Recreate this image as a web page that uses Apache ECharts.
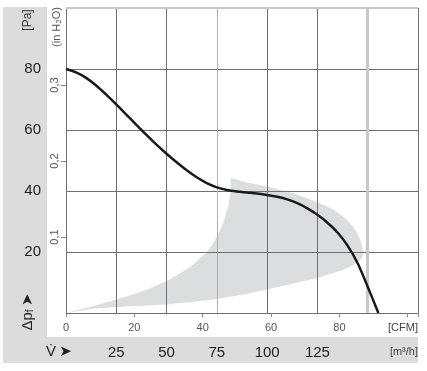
<!DOCTYPE html>
<html><head><meta charset="utf-8">
<script src="https://cdn.jsdelivr.net/npm/echarts@6/dist/echarts.min.js"></script>
<style>html,body{margin:0;padding:0;background:#fff}#c{width:427px;height:371px}</style>
</head><body><div id="c"></div>
<script>
// Fan curve: flow in m³/h, pressure in Pa
const curveFlow = [0, 5, 10, 15, 20, 25, 30, 35, 40, 45, 50, 55, 60, 65, 70, 75, 80, 85, 90, 95, 100, 105, 110, 115, 120, 125, 130, 135, 140, 145, 150, 155.3];
const curvePa   = [80, 78.9, 77.1, 74.6, 71.6, 68.4, 65.05, 61.7, 58.4, 55.2, 52.2, 49.4, 46.8, 44.5, 42.6, 41.2, 40.35, 39.85, 39.5, 39.15, 38.7, 38.1, 37.25, 36.0, 34.3, 32.2, 29.6, 26.4, 22.1, 16.3, 8.6, 0];
// Operating range (shaded region) outline, m³/h / Pa
const bandFlow = [0, 13, 25, 38, 50, 62, 75.2, 88, 100, 112, 125, 138, 144.7, 146.8, 147.7, 147.6, 147.2, 146.2, 144.7, 142.5, 139.7, 133, 125, 113, 100, 89.8, 82, 81.9, 80.7, 78.2, 75.2, 72.5, 69.9, 63.2, 56.5, 49.9, 38.3, 25, 13.3, 0];
const bandPa   = [0, 1.4, 2.0, 2.4, 2.8, 3.6, 4.6, 6.1, 7.7, 9.5, 11.5, 14.2, 16.4, 17.8, 19.1, 20.5, 21.9, 24.1, 26.2, 28.5, 30.6, 33.9, 36.3, 39.3, 41.5, 42.8, 44.3, 39.9, 35, 29.5, 25.1, 22.3, 19.9, 15.8, 12.9, 10.4, 7.1, 4.4, 2.2, 0];
const flowTickLabels = [25, 50, 75, 100, 125];
const cfmTickLabels = [0, 20, 40, 60, 80];
const paTickLabels = [20, 40, 60, 80];
const inH2OTickLabels = [0.1, 0.2, 0.3];
const M3H_PER_CFM = 1.69901;
const PA_PER_INH2O = 249.089;

const FONT = 'Liberation Sans';
const chart = echarts.init(document.getElementById('c'), null, {renderer: 'canvas'});
const DARK = '#707070';
chart.setOption({
  animation: false,
  backgroundColor: '#fff',
  grid: {left: 66, top: 8, width: 352, height: 305, containLabel: false},
  graphic: [
    {type: 'rect', z: -100, shape: {x: 3, y: 7, width: 44, height: 330}, style: {fill: '#dcdcdc'}},
    {type: 'rect', z: -100, shape: {x: 3, y: 337, width: 415, height: 26}, style: {fill: '#dcdcdc'}},
    {type: 'text', x: 28, y: 20, rotation: Math.PI / 2,
      style: {text: '[Pa]', font: '12px ' + FONT, fill: '#333', align: 'center', verticalAlign: 'middle'}},
    {type: 'text', x: 57, y: 27, rotation: Math.PI / 2,
      style: {text: '{a|(in H}{s|2}{a|O)}', align: 'center', verticalAlign: 'middle',
        rich: {a: {font: '11px ' + FONT, fill: '#555'}, s: {font: '8px ' + FONT, fill: '#555', verticalAlign: 'bottom', padding: [4, 0, 0, 0]}}}},
    {type: 'text', x: 28, y: 312, rotation: Math.PI / 2,
      style: {text: '{a|Δp}{s|f} {b|➤}', align: 'center', verticalAlign: 'middle',
        rich: {a: {font: '15px ' + FONT, fill: '#222'}, s: {font: '10px ' + FONT, fill: '#222', padding: [4, 0, 0, 0]}, b: {font: '15px DejaVu Sans', fill: '#222'}}}},
    {type: 'text', x: 46, y: 352,
      style: {text: '{a|V\u0307} {b|➤}', align: 'left', verticalAlign: 'middle',
        rich: {a: {font: '15px ' + FONT, fill: '#222'}, b: {font: '15px DejaVu Sans', fill: '#222'}}}},
    {type: 'text', x: 418, y: 328,
      style: {text: '[CFM]', font: '11px ' + FONT, fill: '#444', align: 'right', verticalAlign: 'middle'}},
    {type: 'text', x: 418, y: 352,
      style: {text: '[m³/h]', font: '11px ' + FONT, fill: '#444', align: 'right', verticalAlign: 'middle'}}
  ],
  xAxis: [
    {type: 'value', min: 0, max: 175, interval: 25, position: 'bottom',
      axisLine: {show: true, lineStyle: {color: DARK, width: 1}},
      axisTick: {show: false},
      axisLabel: {customValues: flowTickLabels, margin: 32, fontSize: 15, fontFamily: FONT, color: '#222'},
      splitLine: {show: true, lineStyle: {width: 1, color: [DARK, DARK, DARK, '#b0b0b0', DARK, DARK, 'rgba(0,0,0,0)', DARK]}}},
    {type: 'value', min: 0, max: 175 / M3H_PER_CFM, interval: 20, position: 'bottom',
      axisLine: {show: false},
      axisTick: {show: true, length: 4, lineStyle: {color: '#888'}},
      axisLabel: {customValues: cfmTickLabels, margin: 9, fontSize: 11, fontFamily: FONT, color: '#555'},
      splitLine: {show: false}}
  ],
  yAxis: [
    {type: 'value', min: 0, max: 100, interval: 20, position: 'left',
      axisLine: {show: true, lineStyle: {color: DARK, width: 1}},
      axisTick: {show: false},
      axisLabel: {customValues: paTickLabels, margin: 25, fontSize: 15, fontFamily: FONT, color: '#222'},
      splitLine: {show: true, lineStyle: {width: 1, color: [DARK, DARK, DARK, DARK, DARK, 'rgba(0,0,0,0)']}}},
    {type: 'value', min: 0, max: 100 / PA_PER_INH2O, position: 'left',
      axisLine: {show: false},
      axisTick: {show: true, length: 5, customValues: inH2OTickLabels, lineStyle: {color: '#888'}},
      axisLabel: {customValues: inH2OTickLabels, rotate: 90, margin: 6, fontSize: 11, fontFamily: FONT, color: '#555',
        formatter: v => v.toFixed(1).replace('.', ',')},
      splitLine: {show: false}}
  ],
  series: [
    {type: 'custom', xAxisIndex: 0, yAxisIndex: 0, z: -1, silent: true,
      data: bandFlow.map((f, i) => [f, bandPa[i]]),
      renderItem: function (params, api) {
        if (params.dataIndex !== 0) return null;
        const pts = bandFlow.map((f, i) => api.coord([f, bandPa[i]]));
        return {type: 'polygon', shape: {points: pts}, style: {fill: '#dcdddf'}};
      }},
    {type: 'line', xAxisIndex: 0, yAxisIndex: 0, z: 5,
      data: curveFlow.map((f, i) => [f, curvePa[i]]),
      showSymbol: false, smooth: 0.3,
      lineStyle: {color: '#1a1a1a', width: 2.5},
      markLine: {silent: true, symbol: 'none', label: {show: false}, z: 1,
        data: [
          {xAxis: 150, lineStyle: {color: '#c8c8c8', width: 3, type: 'solid'}},
          {yAxis: 100, lineStyle: {color: '#c8c8c8', width: 2, type: 'solid'}}
        ]}}
  ]
});
</script></body></html>
